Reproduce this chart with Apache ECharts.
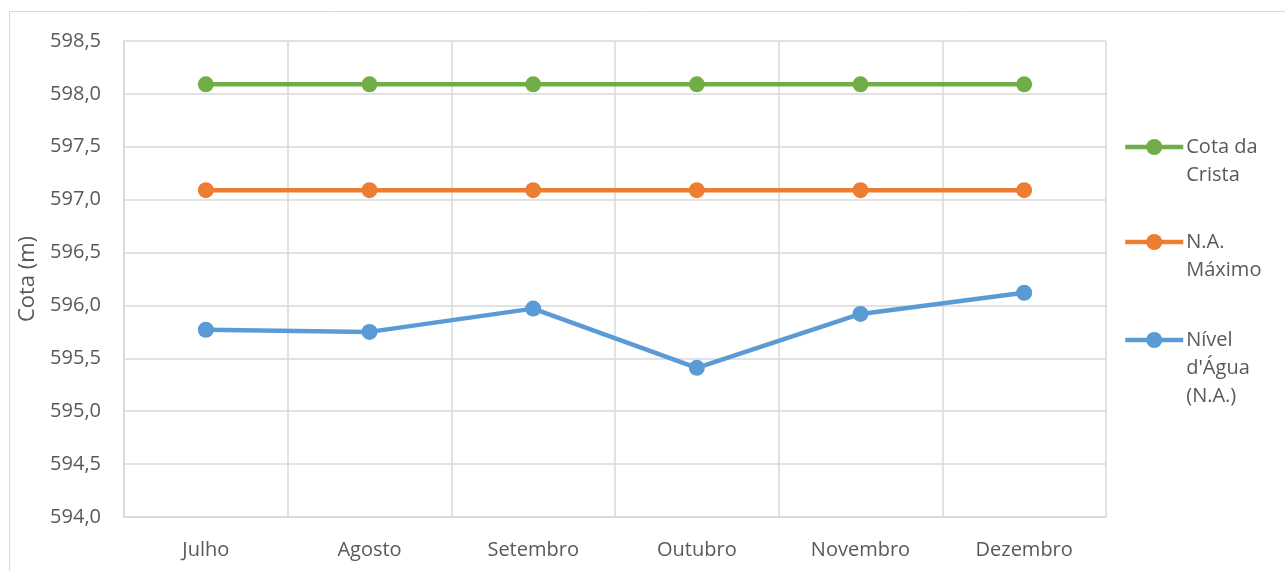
<!DOCTYPE html>
<html>
<head>
<meta charset="utf-8">
<script src="https://cdn.jsdelivr.net/npm/echarts@6/dist/echarts.min.js"></script>
<style>
html, body { margin: 0; padding: 0; background: #fff; }
#main { width: 1285px; height: 571px; }
</style>
</head>
<body>
<div id="main"></div>
<script>
var meses = ['Julho', 'Agosto', 'Setembro', 'Outubro', 'Novembro', 'Dezembro'];
var cotaCrista = [598.09, 598.09, 598.09, 598.09, 598.09, 598.09];
var naMaximo = [597.09, 597.09, 597.09, 597.09, 597.09, 597.09];
var nivelAgua = [595.77, 595.75, 595.97, 595.41, 595.92, 596.12];

var nomes = ['Cota da\nCrista', 'N.A.\nMáximo', "Nível\nd'Água\n(N.A.)"];
var cores = ['#70ad47', '#ed7d31', '#5b9bd5'];

var myChart = echarts.init(document.getElementById('main'));
var fonte = 'Open Sans, sans-serif';
var tam = 20;
var linha = 28;

function serie(nome, dados, cor) {
    return {
        name: nome,
        type: 'line',
        data: dados,
        symbol: 'circle',
        symbolSize: 16,
        lineStyle: { width: 4.5, color: cor },
        itemStyle: { color: cor },
        emphasis: { disabled: true }
    };
}

// one legend per item; leading blank lines keep the marker on the first text line
function legenda(nome, iconeY) {
    var n = nome.split('\n').length;
    return {
        orient: 'vertical',
        left: 1123,
        top: iconeY - linha / 2 * (2 * n - 1),
        padding: 0,
        itemWidth: 58,
        itemHeight: 20,
        itemGap: 0,
        lineStyle: { width: 4.5 },
        textStyle: { color: '#595959', fontSize: tam, fontFamily: fonte, lineHeight: linha, padding: [0, 0, 0, -2] },
        formatter: function (s) {
            var k = s.split('\n').length - 1;
            return new Array(k + 1).join('\n') + s;
        },
        data: [nome]
    };
}

var option = {
    animation: false,
    textStyle: { fontFamily: fonte },
    graphic: [{
        type: 'rect',
        shape: { x: 9.5, y: 11.5, width: 1300, height: 600 },
        style: { fill: 'none', stroke: '#d9d9d9', lineWidth: 1 },
        silent: true
    }],
    grid: { left: 124, right: 179, top: 41, bottom: 54 },
    legend: [
        legenda(nomes[0], 147),
        legenda(nomes[1], 242),
        legenda(nomes[2], 340)
    ],
    xAxis: {
        type: 'category',
        data: meses,
        boundaryGap: true,
        axisLine: { show: true, lineStyle: { color: '#d9d9d9', width: 1.5 } },
        axisTick: { show: false },
        splitLine: { show: true, lineStyle: { color: '#d9d9d9', width: 1.5 } },
        axisLabel: { color: '#595959', fontSize: tam, margin: 23, fontFamily: fonte }
    },
    yAxis: {
        type: 'value',
        min: 594,
        max: 598.5,
        interval: 0.5,
        name: 'Cota (m)',
        nameLocation: 'middle',
        nameGap: 72,
        nameTextStyle: { color: '#595959', fontSize: 22, fontFamily: fonte },
        axisLine: { show: true, lineStyle: { color: '#d9d9d9', width: 1.5 } },
        axisTick: { show: false },
        splitLine: { show: true, lineStyle: { color: '#d9d9d9', width: 1.5 } },
        axisLabel: {
            color: '#595959', fontSize: tam, margin: 23, fontFamily: fonte,
            formatter: function (v) { return v.toFixed(1).replace('.', ','); }
        }
    },
    series: [
        serie(nomes[0], cotaCrista, cores[0]),
        serie(nomes[1], naMaximo, cores[1]),
        serie(nomes[2], nivelAgua, cores[2])
    ]
};
myChart.setOption(option);
</script>
</body>
</html>
